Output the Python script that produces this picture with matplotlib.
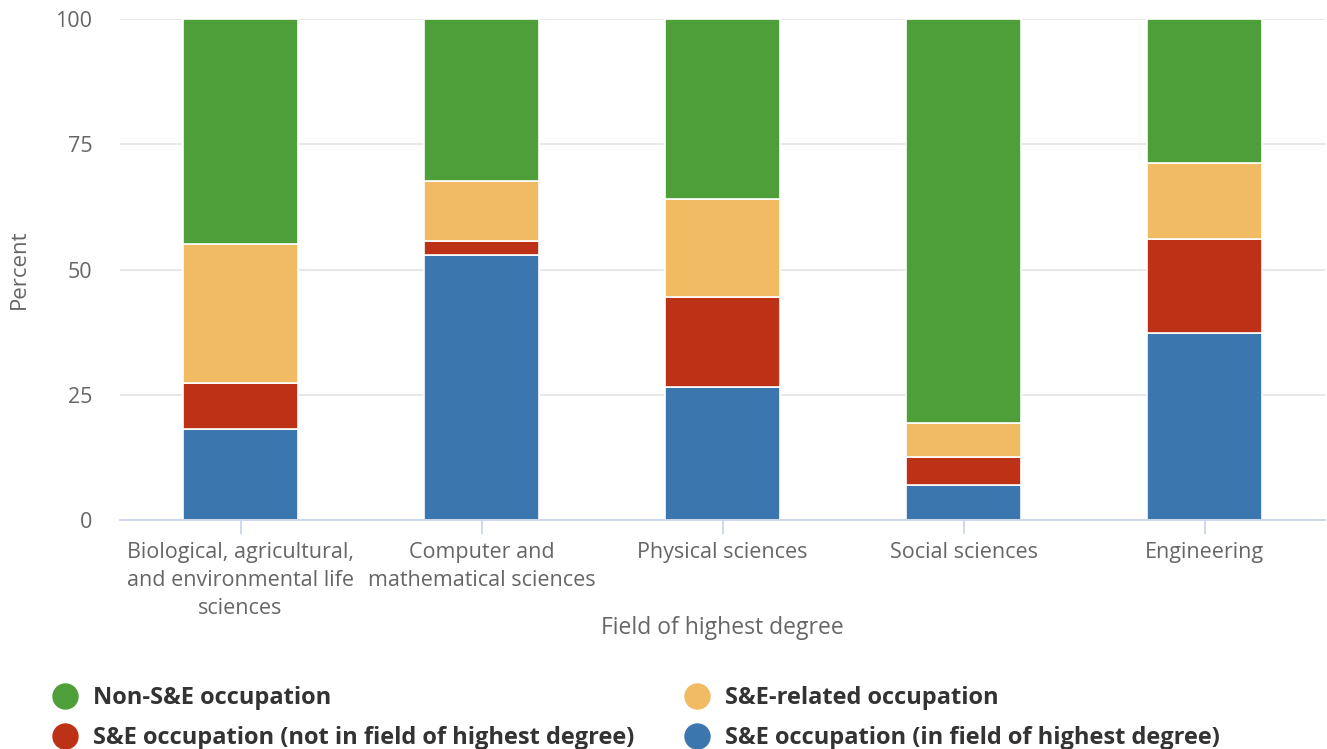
import matplotlib.pyplot as plt
from matplotlib.lines import Line2D
import numpy as np

fields = ['Biological, agricultural,\nand environmental life\nsciences',
          'Computer and\nmathematical sciences',
          'Physical sciences', 'Social sciences', 'Engineering']
in_field = [18.1, 52.8, 26.5, 7.0, 37.3]
not_in_field = [9.2, 2.9, 18.0, 5.6, 18.8]
se_related = [27.7, 12.0, 19.6, 6.8, 15.2]
non_se = [45.0, 32.3, 35.9, 80.6, 28.7]

series = [
    ('S&E occupation (in field of highest degree)', in_field, '#3b76af'),
    ('S&E occupation (not in field of highest degree)', not_in_field, '#bd3116'),
    ('S&E-related occupation', se_related, '#f0bb63'),
    ('Non-S&E occupation', non_se, '#4e9e39'),
]

plt.rcParams['font.family'] = ['Open Sans', 'DejaVu Sans']

fig = plt.figure(figsize=(13.27, 7.49), dpi=100)
ax = fig.add_axes([120 / 1327, 1 - 520 / 749, 1205 / 1327, 501 / 749])

x = np.arange(len(fields))
bottom = np.zeros(len(fields))
for name, vals, color in series:
    ax.bar(x, vals, width=0.475, bottom=bottom, color=color,
           edgecolor='white', linewidth=1.2, zorder=3)
    bottom += np.array(vals)

ax.set_xlim(-0.5, 4.5)
ax.set_ylim(0, 100)
ax.set_yticks([0, 25, 50, 75, 100])
ax.yaxis.grid(True, color='#e6e6e6', linewidth=1.3, zorder=0)
for s in ['top', 'right', 'left']:
    ax.spines[s].set_visible(False)
ax.spines['bottom'].set_color('#ccd6eb')
ax.spines['bottom'].set_linewidth(1.3)
ax.spines['bottom'].set_zorder(4)

ax.set_xticks(x)
ax.set_xticklabels(fields, fontsize=15.5, color='#666666', linespacing=1.42)
ax.tick_params(axis='x', length=10, width=1.3, color='#ccd6eb', pad=6)
ax.tick_params(axis='y', length=0, labelsize=15.5, labelcolor='#666666', pad=20)

ax.set_ylabel('Percent', fontsize=16, color='#666666', labelpad=18)
ax.set_xlabel('Field of highest degree', fontsize=16.5, color='#666666', labelpad=-2)

legend_order = [series[3], series[1], series[2], series[0]]
handles = [Line2D([0], [0], marker='o', linestyle='', markersize=18,
                  markerfacecolor=c, markeredgecolor=c) for _, _, c in legend_order]
labels = [n for n, _, _ in legend_order]
leg = fig.legend(handles, labels, ncol=2, loc='upper left',
                 bbox_to_anchor=(20 / 1327, 1 - 665 / 749), frameon=False,
                 handletextpad=0.2, columnspacing=1.65, labelspacing=0.66,
                 prop={'weight': 'bold', 'size': 17})
for t in leg.get_texts():
    t.set_color('#333333')

fig.savefig('out.png', dpi=100)
